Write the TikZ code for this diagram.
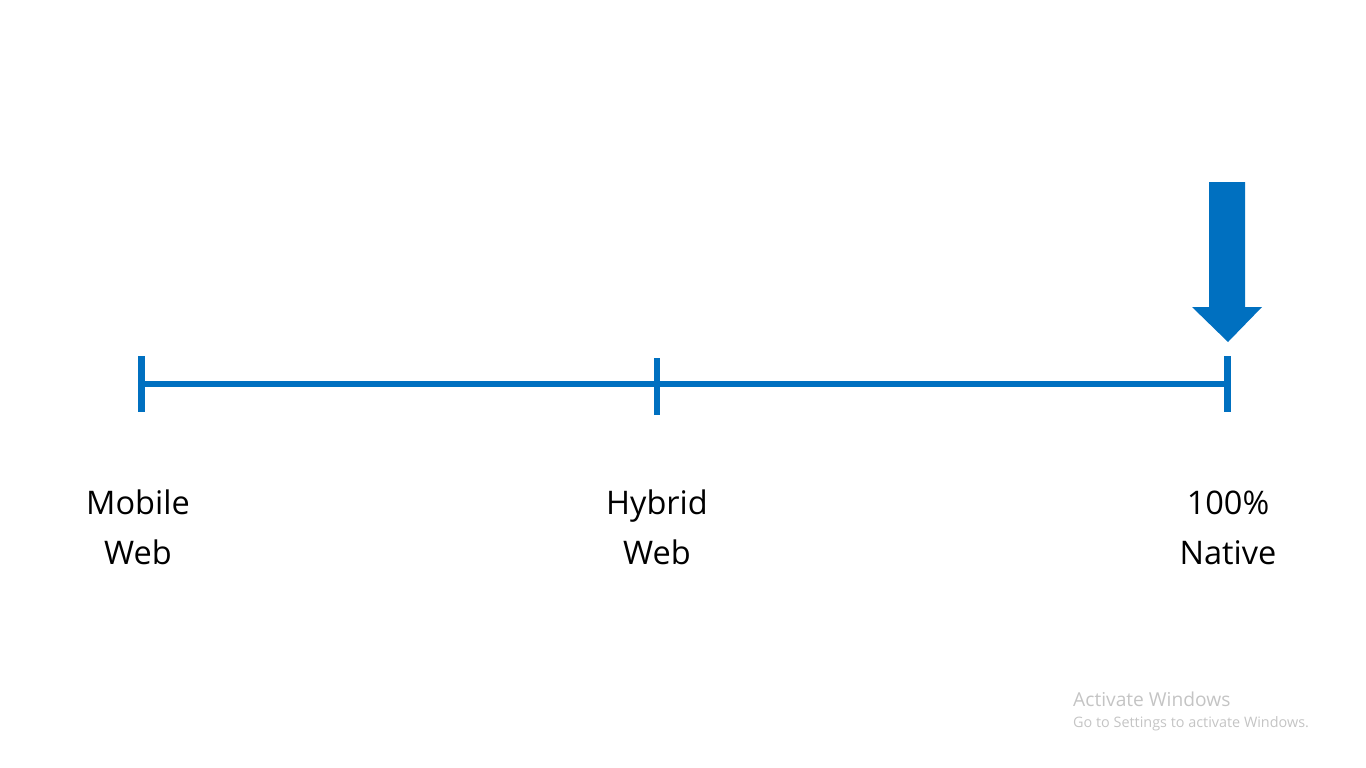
\documentclass[tikz,border=0pt]{standalone}
\usepackage{fontspec}
\setmainfont{Open Sans}
\definecolor{obl}{HTML}{0070C0}
\definecolor{wm}{HTML}{C4C4C4}
\begin{document}
\begin{tikzpicture}[x=1pt,y=-1pt,
  axis/.style={draw=obl,line width=6pt},
  tick/.style={draw=obl,line width=6.5pt},
  lbl/.style={inner sep=0pt,align=center,font=\fontsize{32.5}{50}\selectfont,text=black,anchor=base},
  wmtext/.style={inner sep=0pt,anchor=base west,text=wm}]
\useasboundingbox (0,0) rectangle (1366,768);
\coordinate (mw) at (141.5,384);
\coordinate (hw) at (657,384);
\coordinate (na) at (1227.5,384);
\draw[axis] (mw) -- (hw) -- (na);
\draw[tick] (141.5,356) -- (141.5,412);
\draw[tick] (657,358) -- (657,415);
\draw[tick] (1227.5,356) -- (1227.5,412);
\fill[obl] (1209,182) -- (1245,182) -- (1245,307) -- (1262,307) -- (1228,342) -- (1192,307) -- (1209,307) -- cycle;
\node[lbl] (lmw) at (138,564) {Mobile\\Web};
\node[lbl] (lhw) at (657,564) {Hybrid\\Web};
\node[lbl] (lna) at (1228,564) {100\%\\Native};
\node[wmtext,font=\fontsize{19.2}{21}\selectfont] (wm1) at (1073,706) {Activate Windows};
\node[wmtext,font=\fontsize{14.4}{16}\selectfont] (wm2) at (1073,727) {Go to Settings to activate Windows.};
\end{tikzpicture}
\end{document}
